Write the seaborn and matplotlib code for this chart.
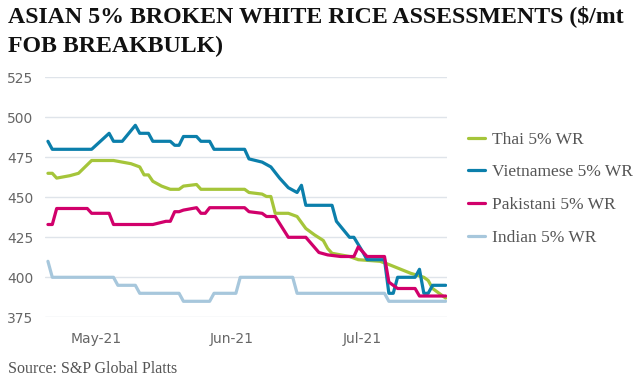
import pandas as pd
import numpy as np
import matplotlib
matplotlib.use("Agg")
import matplotlib.pyplot as plt
import matplotlib.dates as mdates
import seaborn as sns

# values, at the dates where the lines bend ($/mt)
thai_dates = ["2021-04-20", "2021-04-21", "2021-04-22", "2021-04-25", "2021-04-27",
              "2021-04-30", "2021-05-05", "2021-05-09", "2021-05-11", "2021-05-12",
              "2021-05-13", "2021-05-14", "2021-05-16", "2021-05-18", "2021-05-20",
              "2021-05-21", "2021-05-24", "2021-05-25", "2021-06-04", "2021-06-05",
              "2021-06-08", "2021-06-09", "2021-06-10", "2021-06-11", "2021-06-14",
              "2021-06-16", "2021-06-18", "2021-06-20", "2021-06-22", "2021-06-23",
              "2021-06-24", "2021-06-28", "2021-06-30", "2021-07-05", "2021-07-07",
              "2021-07-12", "2021-07-15", "2021-07-16", "2021-07-17", "2021-07-20"]
thai_vals = [465, 465, 462, 463.5, 465,
             473, 473, 471, 469, 464,
             464, 460, 457, 455, 455,
             457, 458, 455, 455, 453,
             452, 450.5, 450.5, 440, 440,
             438, 430.5, 426.5, 423, 418,
             415, 413, 411, 410, 408,
             402.5, 400, 398, 393, 387]

viet_dates = ["2021-04-20", "2021-04-21", "2021-04-30", "2021-05-04", "2021-05-05",
              "2021-05-07", "2021-05-10", "2021-05-11", "2021-05-13", "2021-05-14",
              "2021-05-18", "2021-05-19", "2021-05-20", "2021-05-21", "2021-05-24",
              "2021-05-25", "2021-05-27", "2021-05-28", "2021-06-04", "2021-06-05",
              "2021-06-08", "2021-06-10", "2021-06-12", "2021-06-14", "2021-06-16",
              "2021-06-17", "2021-06-18", "2021-06-24", "2021-06-25", "2021-06-28",
              "2021-06-29", "2021-07-01", "2021-07-02", "2021-07-06", "2021-07-07",
              "2021-07-08", "2021-07-09", "2021-07-13", "2021-07-14", "2021-07-15",
              "2021-07-16", "2021-07-17", "2021-07-20"]
viet_vals = [485, 480, 480, 490, 485,
             485, 495, 490, 490, 485,
             485, 482.5, 482.5, 488, 488,
             485, 485, 480, 480, 474,
             472, 469, 462, 456, 453,
             457.5, 445, 445, 435, 425,
             425, 416, 411, 411, 390,
             390, 400, 400, 405, 390,
             390, 395, 395]

pak_dates = ["2021-04-20", "2021-04-21", "2021-04-22", "2021-04-29", "2021-04-30",
             "2021-05-04", "2021-05-05", "2021-05-14", "2021-05-17", "2021-05-18",
             "2021-05-19", "2021-05-20", "2021-05-21", "2021-05-24", "2021-05-25",
             "2021-05-26", "2021-05-27", "2021-06-04", "2021-06-05", "2021-06-08",
             "2021-06-09", "2021-06-11", "2021-06-14", "2021-06-18", "2021-06-21",
             "2021-06-23", "2021-06-26", "2021-06-29", "2021-06-30", "2021-07-02",
             "2021-07-06", "2021-07-07", "2021-07-09", "2021-07-13", "2021-07-14",
             "2021-07-20"]
pak_vals = [433, 433, 443, 443, 440,
            440, 433, 433, 435, 435,
            441, 441, 442, 443.5, 440,
            440, 443.5, 443.5, 441, 440,
            438, 438, 425, 425, 415.5,
            414, 413, 413, 419, 413,
            413, 397, 393, 393, 388.3,
            388.3]

ind_dates = ["2021-04-20", "2021-04-21", "2021-05-05", "2021-05-06", "2021-05-10",
             "2021-05-11", "2021-05-20", "2021-05-21", "2021-05-27", "2021-05-28",
             "2021-06-02", "2021-06-03", "2021-06-15", "2021-06-16", "2021-07-06",
             "2021-07-07", "2021-07-20"]
ind_vals = [410, 400, 400, 395, 395,
            390, 390, 385, 385, 390,
            390, 400, 400, 390, 390,
            385, 385]

series_names = ["Thai 5% WR", "Vietnamese 5% WR", "Pakistani 5% WR", "Indian 5% WR"]
colors = ["#a5c53a", "#0b7fab", "#d1006b", "#a7c7dc"]
yticks = [375, 400, 425, 450, 475, 500, 525]
month_ticks = ["2021-05-01", "2021-06-01", "2021-07-01"]

frames = []
for name, d, v in zip(series_names,
                      [thai_dates, viet_dates, pak_dates, ind_dates],
                      [thai_vals, viet_vals, pak_vals, ind_vals]):
    frames.append(pd.DataFrame({"date": pd.to_datetime(d), "price": v, "series": name}))
df = pd.concat(frames, ignore_index=True)

sns.set_theme(style="white")
plt.rcParams["font.family"] = ["DejaVu Sans"]

fig = plt.figure(figsize=(6.4, 3.81), dpi=100)
W, H = 640, 381
ax = fig.add_axes([45 / W, 1 - 317.3 / H, (447 - 45) / W, (317.3 - 77.3) / H])

sns.lineplot(data=df, x="date", y="price", hue="series", hue_order=series_names,
             palette=dict(zip(series_names, colors)), linewidth=2.3,
             estimator=None, ax=ax)

may1 = pd.Timestamp("2021-05-01")
ax.set_xlim(may1 - pd.Timedelta(days=11.67), may1 + pd.Timedelta(days=80.3))
ax.set_ylim(375, 525)
ax.set_yticks(yticks)
ax.set_xticks(pd.to_datetime(month_ticks))
ax.xaxis.set_major_formatter(mdates.DateFormatter("%b-%y"))
ax.grid(axis="y", color="#dfe4ea", linewidth=1)
ax.grid(axis="x", visible=False)
for s in ax.spines.values():
    s.set_visible(False)
ax.tick_params(axis="both", length=0, labelsize=10, colors="#666666")
ax.tick_params(axis="y", pad=8.5)
ax.tick_params(axis="x", pad=10.5)
ax.set_xlabel("")
ax.set_ylabel("")

handles, labels = ax.get_legend_handles_labels()
ax.legend().remove()
fig.legend(handles, labels, loc="upper left", bbox_to_anchor=(452 / W, 1 - 116 / H),
           frameon=False, handlelength=1.0, handletextpad=0.4, labelspacing=0.95,
           prop={"family": "Liberation Serif", "size": 12.5}, labelcolor="#555555")

fig.text(8 / W, 1 - 21.7 / H, "ASIAN 5% BROKEN WHITE RICE ASSESSMENTS ($/mt",
         family="Liberation Serif", weight="bold", size=17.2, color="#111111", va="baseline")
fig.text(8 / W, 1 - 51.7 / H, "FOB BREAKBULK)",
         family="Liberation Serif", weight="bold", size=17.2, color="#111111", va="baseline")
fig.text(8 / W, 1 - 373 / H, "Source: S&P Global Platts",
         family="Liberation Serif", size=11.5, color="#555555", va="baseline")

fig.savefig("out.png", dpi=100)
